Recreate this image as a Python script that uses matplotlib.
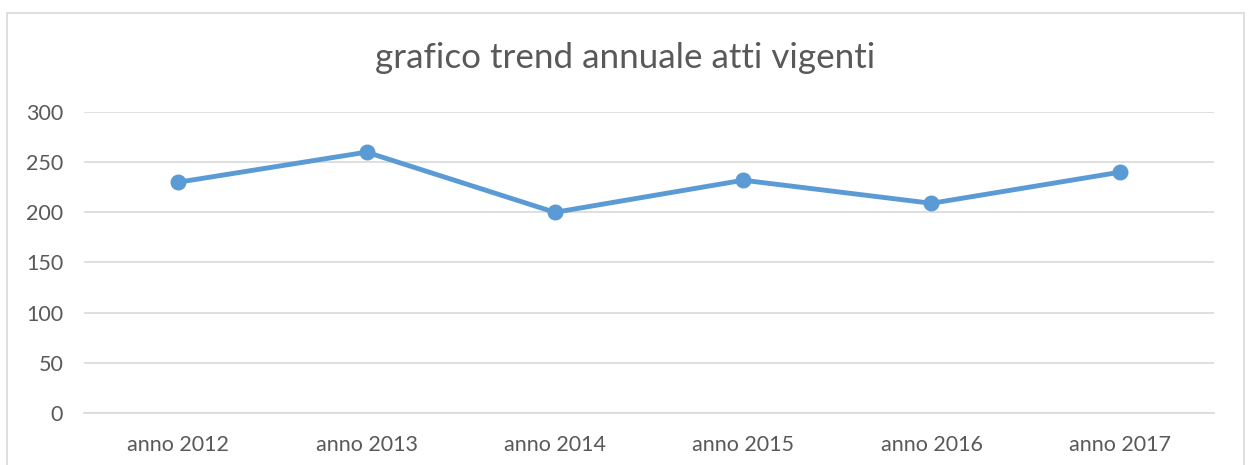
import matplotlib.pyplot as plt
from matplotlib.patches import Rectangle

# dati
anni = ['anno 2012', 'anno 2013', 'anno 2014', 'anno 2015', 'anno 2016', 'anno 2017']
atti_vigenti = [230, 260, 200, 232, 209, 240]
y_ticks = [0, 50, 100, 150, 200, 250, 300]

plt.rcParams['font.family'] = ['Lato', 'DejaVu Sans']

W, H = 1248, 465
fig = plt.figure(figsize=(W / 100, H / 100), dpi=100)

# cornice del grafico (il bordo inferiore esce dall'immagine)
fig.patches.append(Rectangle((7 / W, -0.05), (1244 - 7) / W, (H - 13) / H + 0.05,
                             transform=fig.transFigure, fill=False,
                             edgecolor='#D9D9D9', linewidth=1.2))

ax = fig.add_axes([84 / W, (H - 413) / H, (1214 - 84) / W, (413 - 112) / H])

x = list(range(len(anni)))
ax.plot(x, atti_vigenti, color='#5B9BD5', linewidth=3.5, marker='o',
        markersize=10.5, zorder=3)

ax.set_xlim(-0.5, len(anni) - 0.5)
ax.set_ylim(0, 300)
ax.set_yticks(y_ticks)
ax.set_xticks(x)
ax.set_xticklabels(anni)
ax.grid(axis='y', color='#D9D9D9', linewidth=1.2)
ax.set_axisbelow(True)
for s in ax.spines.values():
    s.set_visible(False)
ax.spines['bottom'].set_visible(True)
ax.spines['bottom'].set_color('#D9D9D9')
ax.spines['bottom'].set_linewidth(1.2)
ax.tick_params(length=0, labelsize=15.5, labelcolor='#595959')
ax.tick_params(axis='y', pad=15)
ax.tick_params(axis='x', pad=16)

fig.text(625 / W, 1 - 58 / H, 'grafico trend annuale atti vigenti',
         ha='center', va='center', fontsize=25.2, color='#595959')

fig.savefig('out.png', dpi=100)
